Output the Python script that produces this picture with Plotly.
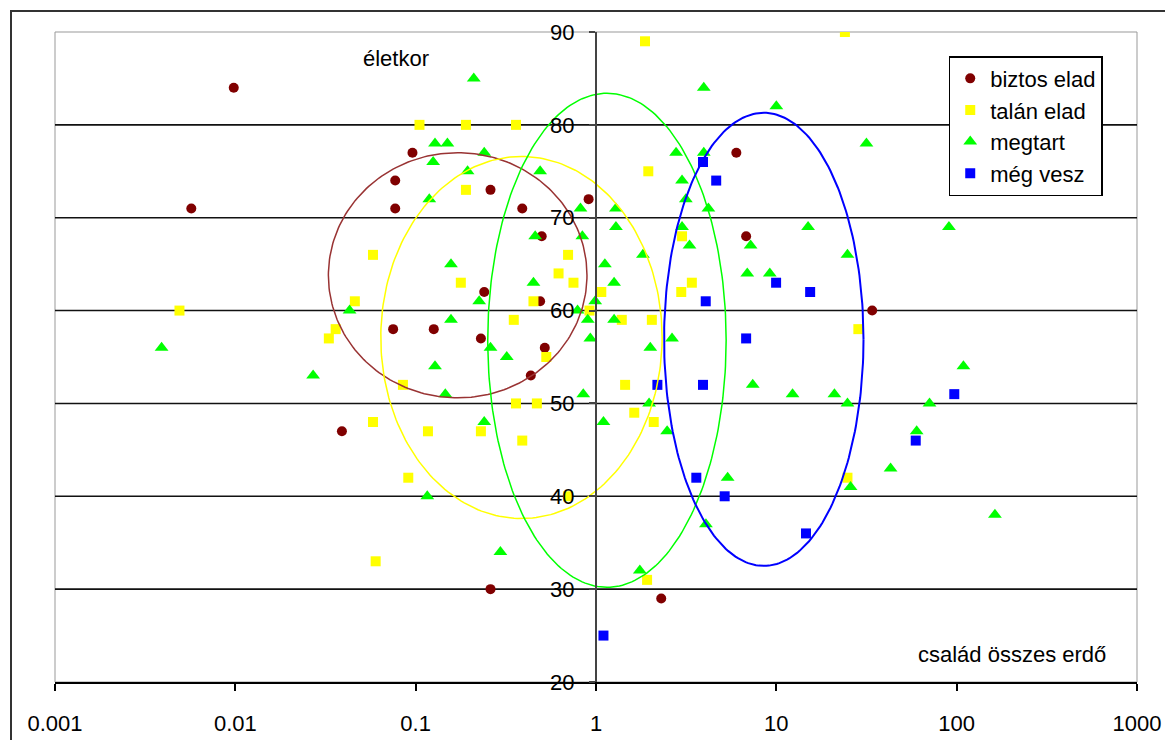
import numpy as np
import plotly.graph_objects as go

# ---------------- data ----------------
biztos_x = [0.0098, 0.0057, 0.096, 0.077, 0.077, 0.26, 0.39, 0.91, 0.50, 0.24, 0.075, 0.126, 0.23, 0.52,
            0.435, 0.039, 0.26, 2.3, 6.0, 6.8, 34, 0.49]
biztos_y = [84, 71, 77, 74, 71, 73, 71, 72, 68, 62, 58, 58, 57, 56, 53, 47, 30, 29, 77, 68, 60, 61]

talan_x = [0.105, 0.19, 0.36, 0.19, 0.058, 0.178, 0.70, 0.62, 0.75, 0.046, 0.036, 0.033, 0.0049, 0.45,
           0.35, 0.53, 0.92, 1.87, 24, 1.95, 3.0, 3.4, 2.97, 1.07, 1.39, 2.04, 28.5, 0.085, 0.36, 0.47,
           0.058, 0.117, 0.23, 0.39, 0.091, 0.70, 0.06, 1.45, 1.63, 2.09, 24.8, 1.92]
talan_y = [80, 80, 80, 73, 66, 63, 66, 64, 63, 61, 58, 57, 60, 61,
           59, 55, 60, 89, 90, 75, 68, 63, 62, 62, 59, 59, 58, 52, 50, 50,
           48, 47, 47, 46, 42, 40, 33, 52, 49, 48, 42, 31]

megtart_x = [0.21, 0.128, 0.15, 0.24, 0.125, 0.194, 0.49, 0.119, 0.82, 0.46, 0.84, 0.157, 0.45, 0.225,
             0.043, 0.157, 0.90, 0.93, 0.26, 0.32, 0.99, 0.0039, 0.79,
             0.027, 0.128, 0.146, 0.24, 0.116, 0.295, 0.85,
             3.96, 10, 31.6, 2.78, 3.96, 3.0, 3.15, 4.2, 1.29, 1.29, 3.0, 3.3, 7.2, 15, 90.6, 1.82, 24.8,
             1.12, 6.9, 9.2, 1.26, 1.26, 2.0, 2.64, 109,
             1.97, 1.1, 2.48, 7.4, 12.3, 21, 24.8, 70.7, 60, 5.37, 25.8, 43, 163, 4.07, 1.75]
megtart_y = [85, 78, 78, 77, 76, 75, 75, 72, 71, 68, 68, 65, 63, 61,
             60, 59, 59, 57, 56, 55, 61, 56, 60,
             53, 54, 51, 48, 40, 34, 51,
             84, 82, 78, 77, 77, 74, 72, 71, 71, 69, 69, 67, 67, 69, 69, 66, 66,
             65, 64, 64, 63, 59, 56, 57, 54,
             50, 48, 47, 52, 51, 51, 50, 50, 47, 42, 41, 43, 38, 37, 32]

meg_vesz_x = [3.92, 4.64, 9.97, 15.4, 4.06, 6.8, 2.19, 3.92, 97, 59.3, 3.6, 5.17, 14.6, 1.1]
meg_vesz_y = [76, 74, 63, 62, 61, 57, 52, 52, 51, 46, 42, 40, 36, 25]

series_names = ["biztos elad", "talán elad", "megtart", "még vesz"]
series_colors = ["#800000", "#FFFF00", "#00FF00", "#0000FF"]
series_symbols = ["circle", "square", "triangle-up", "square"]

# ellipses: centre x, centre y, half-width (decades), half-height (years)
ell_cx = [0.171, 0.386, 1.15, 8.52]
ell_cy = [63.8, 57.1, 56.8, 56.9]
ell_hw = [0.717, 0.78, 0.661, 0.553]
ell_hh = [13.2, 19.5, 26.6, 24.4]
ell_colors = ["#993333", "#FFFF00", "#00FF00", "#0000FF"]
ell_widths = [1.5, 1.5, 1.5, 2]

x_tickvals = [0.001, 0.01, 0.1, 1, 10, 100, 1000]
x_ticktext = ["0.001", "0.01", "0.1", "1", "10", "100", "1000"]
y_tickvals = [20, 30, 40, 50, 60, 70, 80, 90]
y_gridvals = [30, 40, 50, 60, 70, 80]

FONT = "Liberation Sans, Arial, sans-serif"
FS = 22

fig = go.Figure()

xs = [biztos_x, talan_x, megtart_x, meg_vesz_x]
ys = [biztos_y, talan_y, megtart_y, meg_vesz_y]
sizes = [10, 10, 12, 10]
for name, c, s, x, y, sz in zip(series_names, series_colors, series_symbols, xs, ys, sizes):
    fig.add_trace(go.Scatter(x=x, y=y, mode="markers", name=name,
                             marker=dict(color=c, symbol=s, size=sz, line=dict(width=0))))

t = np.linspace(0, 2 * np.pi, 241)
for cx, cy, hw, hh, c, w in zip(ell_cx, ell_cy, ell_hw, ell_hh, ell_colors, ell_widths):
    ex = 10 ** (np.log10(cx) + hw * np.cos(t))
    ey = cy + hh * np.sin(t)
    fig.add_trace(go.Scatter(x=ex, y=ey, mode="lines", line=dict(color=c, width=w),
                             showlegend=False, hoverinfo="skip"))

shapes = []
# plot area border (gray)
shapes.append(dict(type="rect", xref="paper", yref="paper", x0=0, x1=1, y0=0, y1=1,
                   line=dict(color="#999999", width=1), layer="below"))
# horizontal gridlines
for g in y_gridvals:
    shapes.append(dict(type="line", xref="paper", yref="y", x0=0, x1=1, y0=g, y1=g,
                       line=dict(color="#111111", width=1.6), layer="below"))

fig.update_layout(
    width=1173, height=740,
    margin=dict(l=47, r=44, t=24, b=62),
    paper_bgcolor="white", plot_bgcolor="white",
    font=dict(family=FONT, size=FS, color="black"),
    shapes=shapes,
    showlegend=True,
    legend=dict(x=0.826, y=0.963, xanchor="left", yanchor="top",
                bgcolor="white", bordercolor="black", borderwidth=1.5,
                font=dict(family=FONT, size=FS, color="black"),
                itemwidth=30, tracegroupgap=0),
    annotations=[
        dict(text="életkor", xref="paper", yref="paper", x=0.315, y=0.959,
             xanchor="center", yanchor="middle",
             showarrow=False, font=dict(family=FONT, size=FS, color="black")),
        dict(text="család összes erdő", xref="paper", yref="paper", x=0.8845, y=0.0428,
             xanchor="center", yanchor="middle",
             showarrow=False, font=dict(family=FONT, size=FS, color="black")),
        # outer chart frame
        dict(text=" ", xref="paper", yref="paper", x=-0.0415, y=1.0335,
             xanchor="left", yanchor="top", width=1200, height=780,
             showarrow=False, bordercolor="#333333", borderwidth=2, borderpad=0),
    ],
)

fig.update_xaxes(type="log", range=[-3, 3], tickvals=x_tickvals, ticktext=x_ticktext,
                 ticks="outside", ticklen=7, tickcolor="black", tickwidth=1.5,
                 showline=True, linecolor="black", linewidth=1.6, showgrid=False,
                 zeroline=False, ticklabelstandoff=14)
fig.update_yaxes(range=[20, 90], tickvals=y_tickvals, anchor="free", position=0.5,
                 ticks="outside", ticklen=6, tickcolor="#444444", tickwidth=1.5,
                 showline=True, linecolor="#444444", linewidth=2, showgrid=False,
                 zeroline=False, ticklabelstandoff=10)

fig.write_html("out.html")
